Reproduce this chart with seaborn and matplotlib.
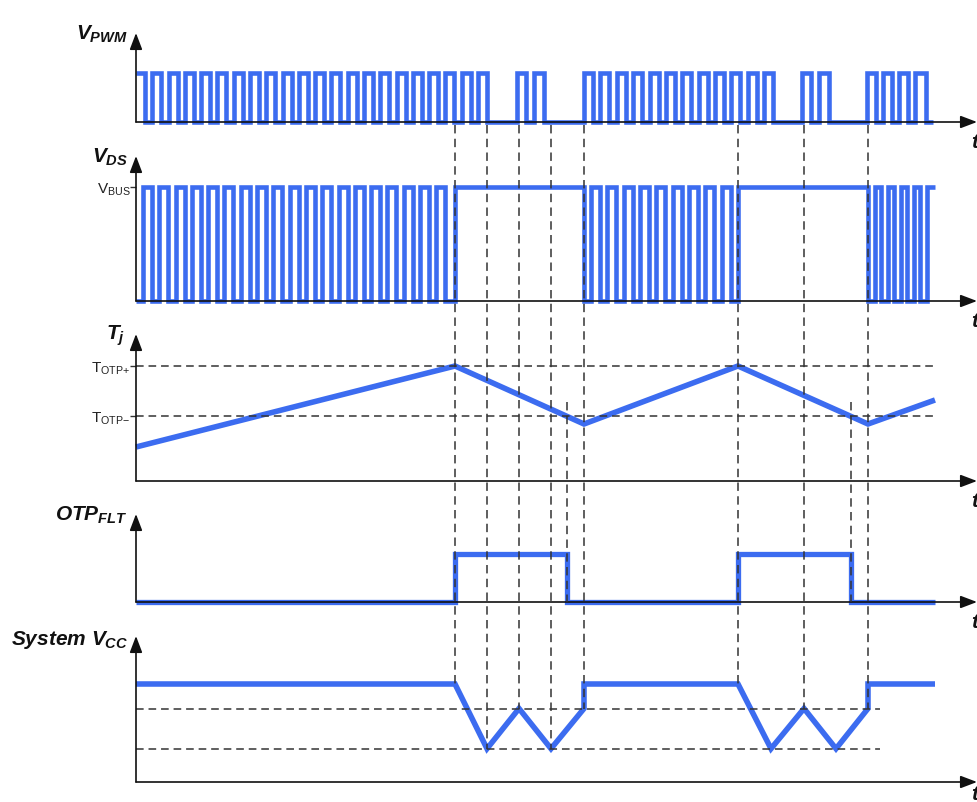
import matplotlib
matplotlib.use("Agg")
import matplotlib.pyplot as plt
import seaborn as sns
from matplotlib.lines import Line2D
from matplotlib.transforms import blended_transform_factory

# ---------------- data (time in arbitrary units, axis ends at 841) ----------------
T_STOP = 799

# PWM gate signal: high intervals
pwm_level = 5.0
pwm_start = [0, 16, 33, 49, 65, 81, 98, 114, 130, 147, 163, 179, 195, 212, 228, 244,
             261, 277, 293, 309, 326, 342,
             381, 398,
             448, 464, 481, 497, 514, 530, 546, 563, 579, 595, 612, 628,
             666, 683,
             731, 747, 763, 779]
pwm_end = [9, 25, 42, 58, 74, 90, 107, 123, 139, 156, 172, 188, 204, 221, 237, 253,
           270, 286, 302, 318, 335, 351,
           390, 408,
           457, 473, 490, 506, 523, 539, 555, 572, 588, 604, 621, 637,
           675, 693,
           740, 756, 772, 790]
pwm_stop = 797

# Drain-source voltage: high (V_BUS) intervals
vbus = 400.0
vds_start = [7, 23, 40, 56, 72, 88, 105, 121, 137, 154, 170, 186, 203, 219, 235, 251,
             268, 284, 300, 319,
             455, 471, 488, 504, 520, 537, 553, 569, 586, 602,
             739, 752, 765, 778, 791]
vds_end = [16, 32, 49, 65, 81, 97, 114, 130, 146, 163, 179, 195, 212, 228, 244, 260,
           277, 293, 309, 448,
           464, 480, 497, 513, 529, 546, 562, 578, 595, 732,
           745, 758, 771, 784, 799]

# Junction temperature
t_otp_hi = 150.0
t_otp_lo = 125.0
tj_t = [0, 319, 448, 602, 732, 799]
tj_v = [109.5, 150, 121, 150, 121, 133]

# OTP fault flag
otp_t = [0, 319, 319, 431, 431, 602, 602, 715, 715, 799]
otp_v = [0, 0, 1, 1, 0, 0, 1, 1, 0, 0]

# System Vcc
vcc_on = 7.5
vcc_off = 3.4
vcc_t = [0, 319, 351, 383, 415, 448, 448, 602, 635, 668, 700, 732, 732, 799]
vcc_v = [10, 10, 3.4, 7.5, 3.4, 7.5, 10, 10, 3.4, 7.5, 3.4, 7.5, 10, 10]
vcc_thr_end = 744

# event markers (vertical dashed lines) and where they end on the Vcc trace
event_t = [319, 351, 383, 415, 448, 602, 668, 732]
event_vcc = [10, 3.4, 7.5, 3.4, 7.5, 10, 7.5, 7.5]
clear_t = [431, 715]          # Tj falls below T_OTP-
clear_tj_top = 132.0

panel_labels = [r"$V_{PWM}$", r"$V_{DS}$", r"$T_j$", r"$OTP_{FLT}$", r"System $V_{CC}$"]


def square(starts, ends, hi, stop):
    xs, ys = [0], [hi if starts[0] == 0 else 0]
    for s, e in zip(starts, ends):
        if s > 0:
            xs += [s, s]
            ys += [0, hi]
        if e < stop:
            xs += [e, e]
            ys += [hi, 0]
        else:
            xs += [stop]
            ys += [hi]
    if xs[-1] < stop:
        xs.append(stop)
        ys.append(0)
    return xs, ys


# ---------------- style ----------------
sns.set_theme(style="white")
plt.rcParams["font.family"] = ["Liberation Sans", "DejaVu Sans"]
plt.rcParams["mathtext.fontset"] = "custom"
plt.rcParams["mathtext.rm"] = "Liberation Sans"
plt.rcParams["mathtext.it"] = "Liberation Sans:italic:bold"
plt.rcParams["mathtext.bf"] = "Liberation Sans:bold"

BLUE = "#3c6cf0"
AXC = "#333333"
W, H = 977, 803
X0, X1 = 136, 977
XMAX = 841

fig = plt.figure(figsize=(W / 100, H / 100), dpi=100)

# (top_px, bottom_px, ymax)
panels = [(34, 123, pwm_level * 89 / 49),
          (157, 302, vbus * 145 / 114),
          (335, 482, None),
          (515, 603, 88 / 48),
          (637, 783, 10 * 146 / 98)]
label_off = [(-8, -6), (-8, -6), (-11, -5), (-8, -6), (-8, -8)]
t_off = [-25, -25, -25, -25, -17]

axes = []
for (top, bot, ymax) in panels:
    ax = fig.add_axes([X0 / W, 1 - bot / H, (X1 - X0) / W, (bot - top) / H])
    ax.set_xlim(0, XMAX)
    for s in ax.spines.values():
        s.set_visible(False)
    ax.set_xticks([])
    ax.set_yticks([])
    ax.patch.set_alpha(0)
    axes.append(ax)

ax_pwm, ax_vds, ax_tj, ax_otp, ax_vcc = axes
ax_pwm.set_ylim(0, panels[0][2])
ax_vds.set_ylim(0, panels[1][2])
ax_tj.set_ylim(92.5, 92.5 + 0.5 * (482 - 335))
ax_otp.set_ylim(0, panels[3][2])
ax_vcc.set_ylim(0, panels[4][2])

# traces
px, py = square(pwm_start, pwm_end, pwm_level, pwm_stop)
sns.lineplot(x=px, y=py, sort=False, estimator=None, ax=ax_pwm, color=BLUE,
             linewidth=3.3, clip_on=False)
vx, vy = square(vds_start, vds_end, vbus, T_STOP)
sns.lineplot(x=vx, y=vy, sort=False, estimator=None, ax=ax_vds, color=BLUE,
             linewidth=3.3, clip_on=False)
sns.lineplot(x=tj_t, y=tj_v, sort=False, estimator=None, ax=ax_tj, color=BLUE,
             linewidth=4.0, clip_on=False)
sns.lineplot(x=otp_t, y=otp_v, sort=False, estimator=None, ax=ax_otp, color=BLUE,
             linewidth=3.8, clip_on=False)
sns.lineplot(x=vcc_t, y=vcc_v, sort=False, estimator=None, ax=ax_vcc, color=BLUE,
             linewidth=4.0, clip_on=False)
for ax in axes:
    for ln in ax.lines:
        ln.set_solid_joinstyle("miter")
        ln.set_solid_capstyle("butt")
    ax.set_xlabel("")
    ax.set_ylabel("")

# threshold dashed lines
dash_kw = dict(color=AXC, linewidth=1.1, dashes=(5, 3.2), zorder=3)
for lv in (t_otp_hi, t_otp_lo):
    ax_tj.plot([0, T_STOP], [lv, lv], **dash_kw)
for lv in (vcc_on, vcc_off):
    ax_vcc.plot([0, vcc_thr_end], [lv, lv], **dash_kw)

# y tick labels
ax_vds.set_yticks([vbus])
ax_vds.set_yticklabels([r"$\mathrm{V}_{\mathrm{BUS}}$"])
ax_tj.set_yticks([t_otp_hi, t_otp_lo])
ax_tj.set_yticklabels([r"$\mathrm{T}_{\mathrm{OTP{+}}}$", r"$\mathrm{T}_{\mathrm{OTP{-}}}$"])
for ax in (ax_vds, ax_tj):
    ax.tick_params(axis="y", length=4, width=1, color=AXC, pad=0,
                   labelsize=11, labelcolor="#222222", left=True)

# axes with arrows, labels
for ax, lab, off, toff in zip(axes, panel_labels, label_off, t_off):
    aprops = dict(arrowstyle="-|>,head_length=1.0,head_width=0.38", lw=1.2,
                  color="#111111", shrinkA=0, shrinkB=0, mutation_scale=10)
    ax.annotate("", xy=(0, 1), xytext=(0, 0), xycoords="axes fraction",
                arrowprops=aprops)
    ax.annotate("", xy=(1, 0), xytext=(0, 0), xycoords="axes fraction",
                arrowprops=aprops)
    ax.annotate(lab, xy=(0, 1), xycoords="axes fraction", xytext=off,
                textcoords="offset pixels", ha="right", va="baseline",
                fontsize=15, fontweight="bold", fontstyle="italic", color="#111111")
    ax.annotate("t", xy=(1, 0), xycoords="axes fraction", xytext=(-6, toff),
                textcoords="offset pixels", ha="left", va="baseline",
                fontsize=15, fontweight="bold", fontstyle="italic", color="#111111",
                annotation_clip=False)


# vertical event lines spanning the panels
def fig_y(ax, v):
    return fig.transFigure.inverted().transform(ax.transData.transform((0, v)))[1]


blend = blended_transform_factory(ax_vcc.transData, fig.transFigure)
vkw = dict(color=AXC, linewidth=1.1, dashes=(5.5, 3.5), transform=blend, zorder=5)
y_top = fig_y(ax_pwm, 0) - 3 / H
for t, v in zip(event_t, event_vcc):
    fig.add_artist(Line2D([t, t], [y_top, fig_y(ax_vcc, v)], **vkw))
for t in clear_t:
    fig.add_artist(Line2D([t, t], [fig_y(ax_tj, clear_tj_top), fig_y(ax_otp, 0)], **vkw))

fig.savefig("out.png", dpi=100)
